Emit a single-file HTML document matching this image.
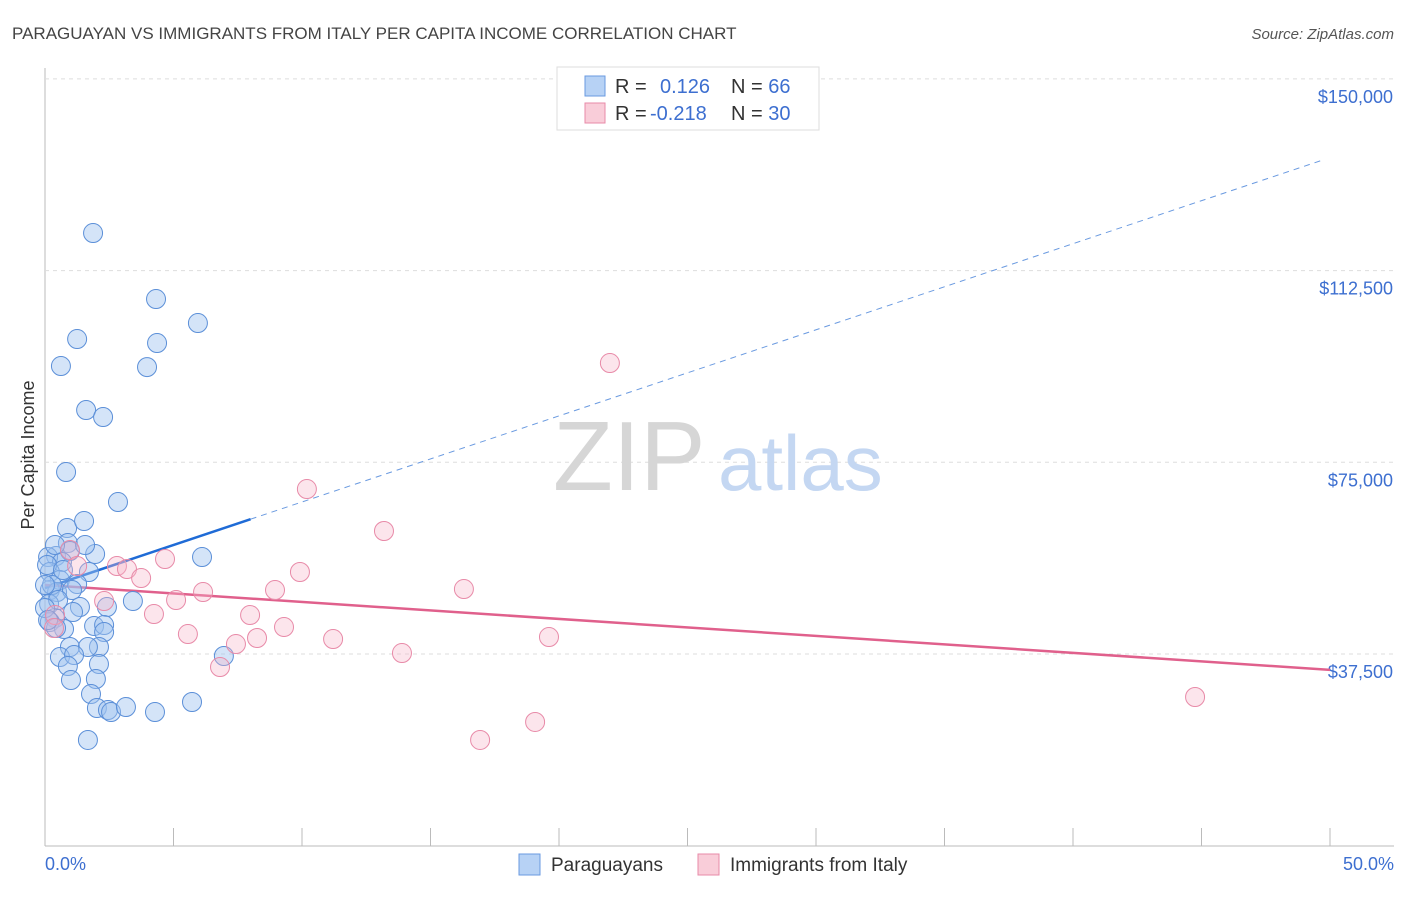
<!DOCTYPE html>
<html><head><meta charset="utf-8"><style>
body{margin:0;background:#fff;font-family:"Liberation Sans",sans-serif;}
svg text{font-family:"Liberation Sans",sans-serif;}
</style></head><body>
<svg id="chart" width="1406" height="892">
<text x="12" y="39" font-size="17" fill="#444">PARAGUAYAN VS IMMIGRANTS FROM ITALY PER CAPITA INCOME CORRELATION CHART</text>
<text x="1394" y="39" font-size="15" fill="#555" font-style="italic" text-anchor="end">Source: ZipAtlas.com</text>
<g id="grid"></g>
<g><text x="553" y="490" font-size="98" fill="#d6d6d6" font-family="Liberation Serif">ZIP</text><text x="718" y="490" font-size="78" fill="#c4d7f2">atlas</text></g>
<g id="lines"></g>
<g id="points"></g>
<text x="34" y="455" font-size="18" fill="#333" text-anchor="middle" transform="rotate(-90 34 455)">Per Capita Income</text>
<text x="45" y="870" font-size="18" fill="#3d6fd0">0.0%</text>
<text x="1394" y="870" font-size="18" fill="#3d6fd0" text-anchor="end">50.0%</text>
<g>
<rect x="557" y="67" width="262" height="63" fill="#fff" stroke="#ddd"/>
<rect x="585" y="76" width="20" height="20" fill="#b7d2f5" stroke="#6a9ae0"/>
<rect x="585" y="103" width="20" height="20" fill="#f9cdd9" stroke="#e88aa8"/>
<text x="615" y="93" font-size="20" fill="#333">R = <tspan fill="#3d6fd0" x="660">0.126</tspan><tspan x="731" fill="#333">N = </tspan><tspan fill="#3d6fd0">66</tspan></text>
<text x="615" y="120" font-size="20" fill="#333">R = <tspan fill="#3d6fd0" x="650">-0.218</tspan><tspan x="731" fill="#333">N = </tspan><tspan fill="#3d6fd0">30</tspan></text>
</g>
<g>
<rect x="519" y="854" width="21" height="21" fill="#b7d2f5" stroke="#6a9ae0"/>
<text x="551" y="871" font-size="19" fill="#333">Paraguayans</text>
<rect x="698" y="854" width="21" height="21" fill="#f9cdd9" stroke="#e88aa8"/>
<text x="730" y="871" font-size="19" fill="#333">Immigrants from Italy</text>
</g>
</svg>
<script>
const yTicks=[37500,75000,112500,150000];
const yTickLabels=["$37,500","$75,000","$112,500","$150,000"];
const xTicks=[0,5,10,15,20,25,30,35,40,45,50];
const blueX=[1.87,4.32,5.95,1.25,4.36,0.62,3.97,1.60,2.26,0.82,2.84,0.86,1.52,0.89,0.43,0.12,0.97,1.95,6.11,0.66,1.56,1.71,0.19,0.58,1.25,0.19,0.47,1.05,3.42,1.36,2.41,0.16,1.09,0.39,0.19,1.91,2.30,0.74,2.30,0.43,0.97,2.10,1.67,0.58,1.13,6.96,2.10,0.89,1.98,1.01,1.79,5.72,2.02,2.45,2.57,3.15,4.28,1.67,0.39,0.08,0.27,0.51,0.70,0,0.12,0];
const blueY=[119850,106940,102240,99110,98330,93830,93630,85220,83850,73100,67230,62140,63510,59210,56670,56470,57640,57060,56470,55490,58820,53540,53540,51970,51190,50010,49620,50010,47860,46690,46690,47280,45710,44540,43760,42970,43170,42390,41800,42580,38870,38870,38870,36910,37300,37110,35540,35150,32610,32410,29670,28110,26930,26540,26150,27130,26150,20680,58820,54910,50990,48060,53930,46500,44150,50990];
const pinkX=[21.98,10.19,13.19,16.30,9.92,6.15,2.80,3.19,3.74,4.67,8.95,5.10,7.98,4.24,2.30,5.56,9.30,8.25,11.21,19.61,7.43,6.81,13.89,19.07,16.93,44.75,0.97,1.25,0.39,0.35];
const pinkY=[94420,69770,61560,50210,53540,49620,54710,54120,52360,56080,50010,48060,45120,45320,47860,41410,42780,40630,40430,40820,39450,34950,37690,24200,20680,29090,57840,54710,45120,42580];
const blueTrend=[50400,134600];
const pinkTrend=[51000,34400];
const NS="http://www.w3.org/2000/svg";
const xs=v=>45+v/50*1285;
const ys=v=>845.7-v/37500*191.7;
function mk(t,a,p){const e=document.createElementNS(NS,t);for(const k in a)e.setAttribute(k,a[k]);p.appendChild(e);return e;}
const grid=document.getElementById('grid');
const ax=mk('line',{x1:45,y1:68,x2:45,y2:846,stroke:'#bbb'},grid);


const bx=mk('line',{x1:45,y1:846,x2:1394,y2:846,stroke:'#bbb'},grid);


yTicks.forEach((t,i)=>{
 const g=mk('line',{x1:45,x2:1394,y1:ys(t),y2:ys(t),stroke:'#ddd','stroke-dasharray':'4,4'},grid);
 
 
 const l=mk('text',{x:1393,y:ys(t)+24,'font-size':18,fill:'#3d6fd0','text-anchor':'end'},grid);
 l.textContent=yTickLabels[i];
 
 
});
xTicks.forEach(t=>{
 const k=mk('line',{x1:xs(t),x2:xs(t),y1:828,y2:846,stroke:'#bbb'},grid);
 
 
});
const pts=document.getElementById('points');
blueX.forEach((x,i)=>{
 const c=mk('circle',{cx:xs(x),cy:ys(blueY[i]),r:9.5,fill:'rgba(160,196,240,0.45)',stroke:'#5b8fd8','stroke-width':1},pts);
 
 
});
pinkX.forEach((x,i)=>{
 const c=mk('circle',{cx:xs(x),cy:ys(pinkY[i]),r:9.5,fill:'rgba(245,180,200,0.35)',stroke:'#e88aa8','stroke-width':1},pts);
 
 
});
const ln=document.getElementById('lines');
const bxEnd=8;
const by=x=>blueTrend[0]+(blueTrend[1]-blueTrend[0])*x/50;
const bs=mk('line',{x1:xs(0),y1:ys(blueTrend[0]),x2:xs(bxEnd),y2:ys(by(bxEnd)),stroke:'#1f6bd6','stroke-width':2.5},ln);


const bd=mk('line',{x1:xs(bxEnd),y1:ys(by(bxEnd)),x2:xs(49.8),y2:ys(by(49.8)),stroke:'#6a9ae0','stroke-width':1,'stroke-dasharray':'6,5'},ln);


const pl=mk('line',{x1:xs(0),y1:ys(pinkTrend[0]),x2:xs(50),y2:ys(pinkTrend[1]),stroke:'#e0608c','stroke-width':2.5},ln);


</script>
</body></html>
